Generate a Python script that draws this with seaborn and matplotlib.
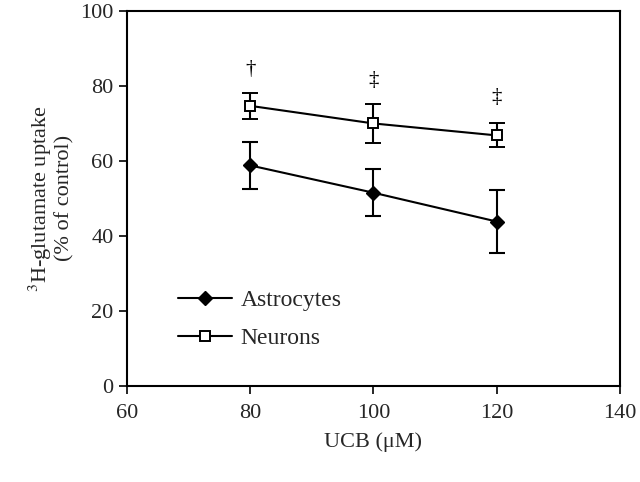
import numpy as np
import pandas as pd
import matplotlib
matplotlib.use("Agg")
import matplotlib.pyplot as plt
from matplotlib.lines import Line2D
import seaborn as sns


ucb = [80, 100, 120]
astro_mean = [58.8, 51.5, 43.8]
astro_err = [6.3, 6.3, 8.5]
neuron_mean = [74.7, 70.0, 66.8]
neuron_err = [3.5, 5.3, 3.2]
marks = ["\u2020", "\u2021", "\u2021"]
mark_y = [84.5, 81.5, 77.0]


def plot_uptake():

    sns.set_style("ticks")
    plt.rcParams["font.family"] = ["Liberation Serif", "DejaVu Serif"]
    plt.rcParams["mathtext.fontset"] = "stix"

    df = pd.DataFrame({
        "UCB": ucb * 2,
        "uptake": astro_mean + neuron_mean,
        "err": astro_err + neuron_err,
        "cell": ["Astrocytes"] * 3 + ["Neurons"] * 3,
    })

    fig, ax = plt.subplots(figsize=(6.4, 4.82), dpi=100)

    styles = {
        "Astrocytes": dict(marker="D", mfc="black", ms=7),
        "Neurons": dict(marker="s", mfc="white", ms=7, mew=1.4),
    }

    handles = []
    for cell, sub in df.groupby("cell"):
        ax.errorbar(
            sub["UCB"], sub["uptake"], yerr=sub["err"],
            color="black", mec="black", lw=1.5, capsize=5.5, capthick=1.5,
            elinewidth=1.5, **styles[cell]
        )
        handles.append(Line2D([], [], color="black", mec="black", lw=1.5,
                              label=cell, **styles[cell]))

    for x, m, y in zip(ucb, marks, mark_y):
        ax.text(x, y, m, ha="center", va="center", fontsize=15,
                color="black")

    ax.set_xlim(60, 140)
    ax.set_ylim(0, 100)
    ax.set_xticks([60, 80, 100, 120, 140])
    ax.set_yticks([0, 20, 40, 60, 80, 100])
    ax.tick_params(labelsize=16, direction="out", length=6, width=1.4,
                   top=False, right=False)
    ax.tick_params(axis="x", pad=7)
    for s in ax.spines.values():
        s.set_linewidth(1.5)
        s.set_color("black")

    ax.set_xlabel("UCB (\u03bcM)", fontsize=16, labelpad=7)
    ax.set_ylabel("$^{3}$H-glutamate uptake\n(% of control)", fontsize=16,
                  linespacing=1.1)

    ax.legend(handles=handles, loc="lower left",
              bbox_to_anchor=(0.08, 0.065), frameon=False,
              fontsize=17, handlelength=2.3, handletextpad=0.35,
              labelspacing=0.7, borderpad=0)

    fig.subplots_adjust(left=0.198, right=0.969, top=0.977, bottom=0.2)
    fig.savefig("out.png", dpi=100)


if __name__ == "__main__":

    plot_uptake()
